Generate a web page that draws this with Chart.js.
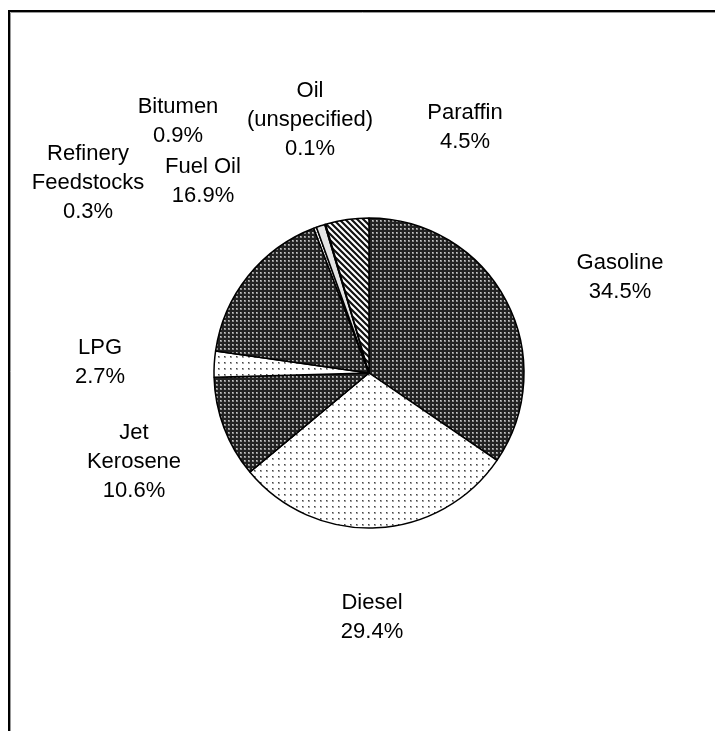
<!DOCTYPE html>
<html>
<head>
<meta charset="utf-8">
<script src="https://cdn.jsdelivr.net/npm/chart.js@4"></script>
<style>
  html, body { margin: 0; padding: 0; background: #fff; }
  #wrap { position: relative; width: 715px; height: 731px; }
</style>
</head>
<body>
<div id="wrap"><canvas id="pieChart" width="715" height="731"></canvas></div>
<script>
// product names (line breaks as in the original labels)
const categories = [
  "Gasoline",
  "Diesel",
  ["Jet", "Kerosene"],
  "LPG",
  "Fuel Oil",
  ["Refinery", "Feedstocks"],
  "Bitumen",
  ["Oil", "(unspecified)"],
  "Paraffin",
];
// share of total, %
const shares = [34.5, 29.4, 10.6, 2.7, 16.9, 0.3, 0.9, 0.1, 4.5];

// -------------------------------
// fill patterns (Excel style b/w fills)
// -------------------------------
function makePattern(size, draw) {
  const c = document.createElement("canvas");
  c.width = size;
  c.height = size;
  const g = c.getContext("2d");
  draw(g, size);
  return document.getElementById("pieChart").getContext("2d").createPattern(c, "repeat");
}

const darkGrid = makePattern(4, (g) => {
  g.fillStyle = "#222";
  g.fillRect(0, 0, 4, 4);
  g.fillStyle = "#8c8c8c";
  g.fillRect(0, 0, 2, 2);
  g.fillStyle = "#c8c8c8";
  g.fillRect(0, 0, 1, 1);
});

const lightDots = makePattern(6, (g) => {
  g.fillStyle = "#ffffff";
  g.fillRect(0, 0, 6, 6);
  g.fillStyle = "#a0a0a0";
  g.fillRect(2, 2, 2, 2);
  g.fillStyle = "#444";
  g.fillRect(2, 2, 1, 1);
});

const stripes = makePattern(6, (g) => {
  g.fillStyle = "#ffffff";
  g.fillRect(0, 0, 6, 6);
  g.strokeStyle = "#111";
  g.lineWidth = 2.2;
  g.beginPath();
  g.moveTo(-1, -1); g.lineTo(7, 7);
  g.moveTo(-7, -1); g.lineTo(1, 7);
  g.moveTo(5, -1); g.lineTo(13, 7);
  g.stroke();
});

const lightHatch = makePattern(4, (g) => {
  g.fillStyle = "#ffffff";
  g.fillRect(0, 0, 4, 4);
  g.fillStyle = "#9a9a9a";
  g.fillRect(0, 0, 1, 1);
  g.fillRect(2, 2, 1, 1);
});

const sliceFills = [darkGrid, lightDots, darkGrid, lightDots, darkGrid, lightHatch, "#e4e4e4", "#ffffff", stripes];

// label anchor offsets from pie centre (layout only)
const labelOffsets = [
  [251, -96], [3, 244], [-235, 89], [-269, -11], [-166, -192],
  [-281, -190], [-191, -252], [-59, -253], [96, -246],
];

const frame = {
  id: "frame",
  beforeDraw(chart) {
    const ctx = chart.ctx;
    ctx.save();
    ctx.strokeStyle = "#000";
    ctx.lineWidth = 2;
    ctx.beginPath();
    ctx.moveTo(9, 731);
    ctx.lineTo(9, 11);
    ctx.lineTo(715, 11);
    ctx.stroke();
    ctx.strokeStyle = "#999";
    ctx.lineWidth = 1;
    ctx.beginPath();
    ctx.moveTo(10.5, 731);
    ctx.lineTo(10.5, 12.5);
    ctx.lineTo(715, 12.5);
    ctx.stroke();
    ctx.restore();
  },
};

const sliceLabels = {
  id: "sliceLabels",
  afterDraw(chart) {
    const ctx = chart.ctx;
    const arcs = chart.getDatasetMeta(0).data;
    ctx.save();
    ctx.fillStyle = "#000";
    ctx.font = "22px 'Liberation Sans', Arial, sans-serif";
    ctx.textAlign = "center";
    ctx.textBaseline = "middle";
    const lineH = 29;
    arcs.forEach((arc, i) => {
      const name = categories[i];
      const lines = (Array.isArray(name) ? name : [name]).concat(shares[i].toFixed(1) + "%");
      const cx = arc.x + labelOffsets[i][0];
      const cy = arc.y + labelOffsets[i][1];
      const top = cy - ((lines.length - 1) * lineH) / 2;
      lines.forEach((t, k) => ctx.fillText(t, cx, top + k * lineH));
    });
    ctx.restore();
  },
};

new Chart(document.getElementById("pieChart"), {
  type: "pie",
  data: {
    labels: categories,
    datasets: [
      {
        data: shares,
        backgroundColor: sliceFills,
        borderColor: "#000",
        borderWidth: 1.5,
        radius: 155,
      },
    ],
  },
  options: {
    responsive: false,
    animation: false,
    rotation: 0,
    layout: { padding: { left: 23, top: 15, right: 0, bottom: 0 } },
    plugins: {
      legend: { display: false },
      tooltip: { enabled: false },
    },
  },
  plugins: [frame, sliceLabels],
});
</script>
</body>
</html>
